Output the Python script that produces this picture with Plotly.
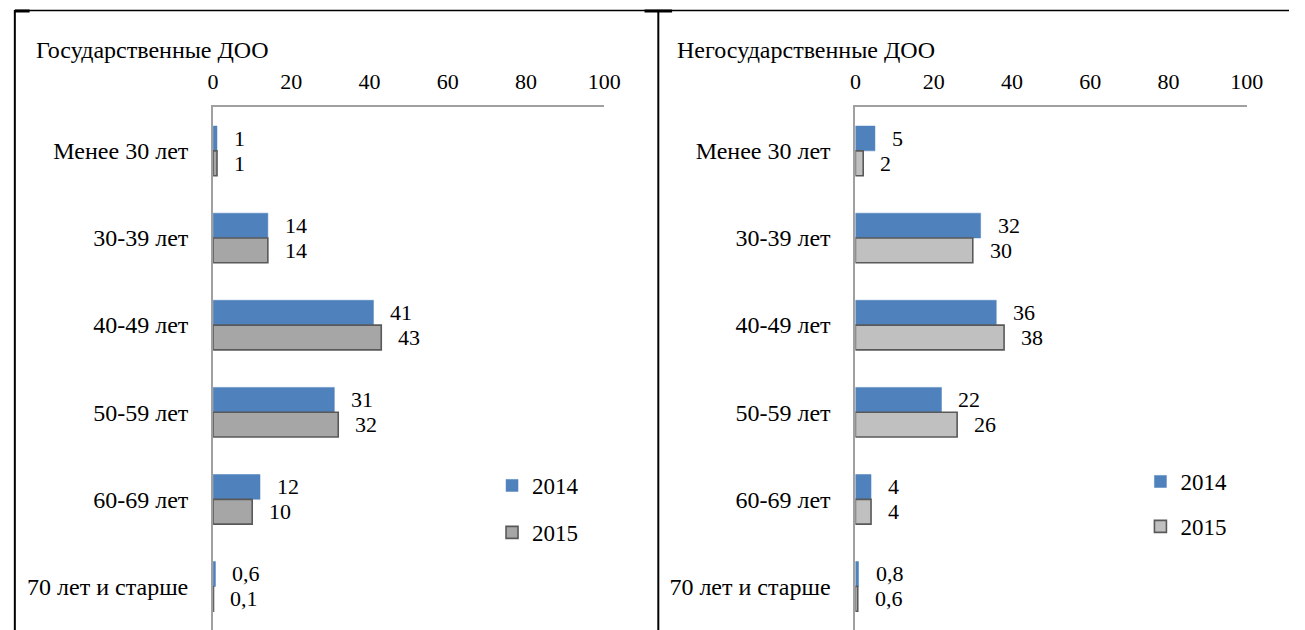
import plotly.graph_objects as go

categories = ["Менее 30 лет", "30-39 лет", "40-49 лет", "50-59 лет", "60-69 лет", "70 лет и старше"]
series_names = ["2014", "2015"]
gov_2014 = [1, 14, 41, 31, 12, 0.6]
gov_2015 = [1, 14, 43, 32, 10, 0.1]
priv_2014 = [5, 32, 36, 22, 4, 0.8]
priv_2015 = [2, 30, 38, 26, 4, 0.6]
panel_titles = ["Государственные ДОО", "Негосударственные ДОО"]
x_ticks = [0, 20, 40, 60, 80, 100]

W, H = 1305, 630
FONT = "Liberation Serif, Times New Roman, serif"
BLUE = "#4F81BD"
GRAY_L = "#A6A6A6"
GRAY_R = "#C0C0C0"
EDGE = "#595959"
AXIS = "#A0A0A0"


def fmt(v):
    if float(v).is_integer():
        return str(int(v))
    return str(v).replace(".", ",")


fig = go.Figure()

panels = [
    (gov_2014, gov_2015, GRAY_L, "x", "y", "legend"),
    (priv_2014, priv_2015, GRAY_R, "x2", "y2", "legend2"),
]

for i, (v14, v15, gcol, xa, ya, leg) in enumerate(panels):
    fig.add_trace(go.Bar(
        y=categories, x=v14, orientation="h", name=series_names[0],
        marker=dict(color=BLUE, line=dict(color=BLUE, width=0.5)),
        xaxis=xa, yaxis=ya, legend=leg, legendgroup=f"a{i}",
        hoverinfo="x+y",
    ))
    fig.add_trace(go.Bar(
        y=categories, x=v15, orientation="h", name=series_names[1],
        marker=dict(color=gcol, line=dict(color=EDGE, width=1.6)),
        xaxis=xa, yaxis=ya, legend=leg, legendgroup=f"b{i}",
        hoverinfo="x+y",
    ))
    # data labels
    for cat, a, b in zip(categories, v14, v15):
        for val, ys in ((a, 12.5), (b, -12.5)):
            fig.add_annotation(
                x=val, y=cat, xref=xa, yref=ya, text=fmt(val),
                showarrow=False, xanchor="left", yanchor="middle",
                xshift=15, yshift=ys,
                font=dict(family=FONT, size=22, color="black"),
            )

ytop = (H - 107.3) / H
xdom1 = [211.5 / W, 609 / W]
xdom2 = [864.3 / W, 1262 / W]

axis_x = dict(
    range=[0, 100], side="top", tickvals=x_ticks, showgrid=False,
    zeroline=False, showline=True, linecolor=AXIS, linewidth=2,
    ticks="", ticklabelstandoff=8,
    tickfont=dict(family=FONT, size=22, color="black"), fixedrange=True,
)
axis_y = dict(
    type="category", categoryorder="array", categoryarray=categories,
    range=[5.5, -0.5], domain=[0, ytop], showgrid=False, zeroline=False,
    showline=True, linecolor=AXIS, linewidth=2, ticks="",
    ticklabelstandoff=18,
    tickfont=dict(family=FONT, size=24, color="black"), fixedrange=True,
)

fig.update_layout(
    width=W, height=H, autosize=False,
    margin=dict(l=0, r=0, t=0, b=0),
    paper_bgcolor="white", plot_bgcolor="white",
    barmode="group", bargap=0.43, bargroupgap=0,
    xaxis=dict(axis_x, domain=xdom1, anchor="y"),
    yaxis=dict(axis_y, anchor="x"),
    xaxis2=dict(axis_x, domain=xdom2, anchor="y2"),
    yaxis2=dict(axis_y, anchor="x2"),
    legend=dict(x=495 / W, y=1 - 464 / H, xanchor="left", yanchor="top",
                font=dict(family=FONT, size=23, color="black"),
                tracegroupgap=14, traceorder="grouped", bgcolor="rgba(0,0,0,0)"),
    legend2=dict(x=1154 / W, y=1 - 460 / H, xanchor="left", yanchor="top",
                 font=dict(family=FONT, size=23, color="black"),
                 tracegroupgap=12, traceorder="grouped", bgcolor="rgba(0,0,0,0)"),
    showlegend=True,
)

# panel titles
for txt, px in zip(panel_titles, (29, 681)):
    fig.add_annotation(
        x=px / W, y=1 - 50 / H, xref="paper", yref="paper", text=txt,
        showarrow=False, xanchor="left", yanchor="middle",
        font=dict(family=FONT, size=24, color="black"),
    )

# table-like frame lines
def px_line(x0, y0, x1, y1, w):
    fig.add_shape(type="line", xref="paper", yref="paper",
                  x0=x0 / W, y0=1 - y0 / H, x1=x1 / W, y1=1 - y1 / H,
                  line=dict(color="black", width=w))

px_line(10, 10.5, 1305, 10.5, 1.5)
px_line(10, 10, 10, 630, 2)
px_line(664, 10, 664, 630, 2)
px_line(10, 11, 25, 11, 3)
px_line(650, 11, 678, 11, 3)

post = (
    "document.documentElement.style.overflow='hidden';"
    "document.body.style.overflow='hidden';"
    "document.body.style.margin='0px';"
)
fig.write_html("out.html", config={"displayModeBar": False, "responsive": False},
               post_script=post)
